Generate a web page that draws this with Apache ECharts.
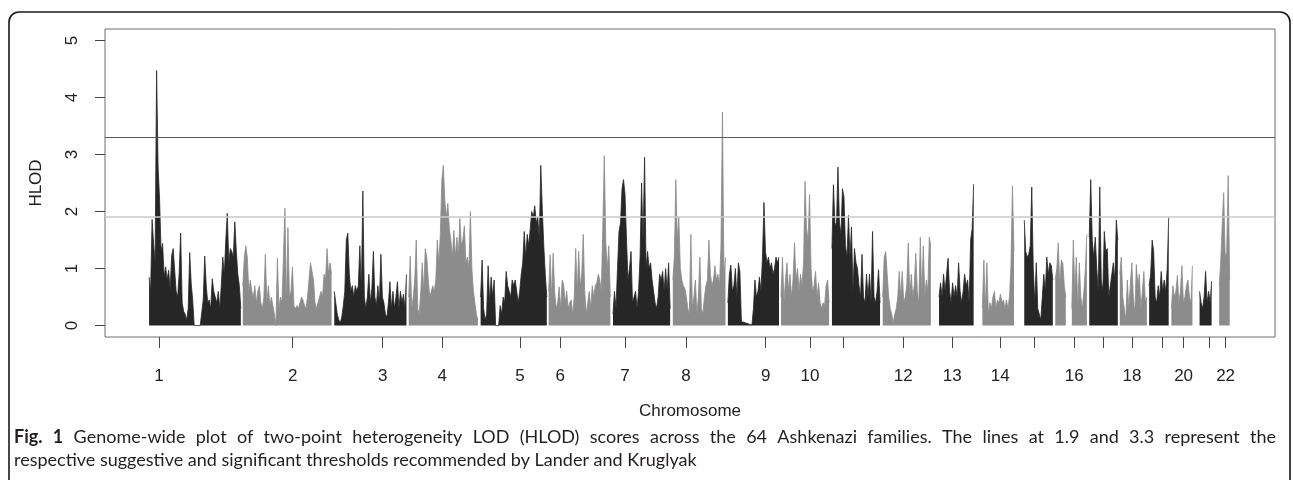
<!DOCTYPE html>
<html>
<head>
<meta charset="utf-8">
<title>HLOD genome scan</title>
<script src="https://cdn.jsdelivr.net/npm/echarts@6.0.0/dist/echarts.min.js"></script>
<style>
  html, body { margin: 0; padding: 0; background: #fff; }
  #chart { width: 1293px; height: 480px; }
</style>
</head>
<body>
<div id="chart"></div>
<script>
// autosome lengths in Mb, values every 4 Mb (null = no markers)
const chrNames = ['1','2','3','4','5','6','7','8','9','10','11','12','13','14','15','16','17','18','19','20','21','22'];
const chrLenMb = [249.25, 243.2, 198.0, 191.15, 180.9, 171.1, 159.1, 146.4, 141.2, 135.5, 135.0,
  133.85, 115.2, 107.35, 102.5, 90.35, 81.2, 78.1, 59.1, 63.0, 48.1, 51.3];
const STEP = 4;

const chr1 = [0.85,0.6,1.86,1.44,1.1,4.47,2.78,2.2,1.3,1.44,0.85,1.03,0.8,0.97,0.62,1.22,1.35,1.33,0.6,0.5,
  0.92,1.62,0.4,0.25,0.2,0.1,0.3,1.28,0.74,0.45,0,0,0,0,0,0,0.45,1.22,0.7,0.4,0.45,0.3,0.82,0.6,0.6,0.4,
  0.6,0.3,0.7,1.2,0.9,1.5,1.97,1.1,1.35,1.3,1.2,1.82,1.3,0.9,0.7,0.3];
const chr2 = [0.7,1.2,1.4,1.2,0.6,0.8,0.6,0.5,0.7,0.4,0.6,0.7,0.4,0.3,0.5,1.25,0.4,0.7,0.35,0.5,
  0.35,0.2,0,1.18,0.3,0.5,0.4,1.2,2.06,0.4,1.72,0.5,0.6,1.03,0.35,0.3,0.35,0.3,0.4,0.5,
  0.45,0.35,0.3,0.5,0.8,1.1,0.95,0.8,0.4,0.3,0.4,0.5,0.6,0.5,0.9,0.8,1.35,0.9,1.1,0.9];
const chr3 = [0.6,0.4,0.2,0.1,0.05,0.15,0.35,0.6,1.5,1.62,0.9,0.6,0.7,0.5,0.7,0.6,0.7,1.4,0.6,2.36,
  0.5,0.3,0.5,0.9,0.4,0.65,1.3,0.5,0.35,0.7,0.4,1.25,0.5,0.4,0.2,0.15,0.4,0.77,0.3,0.6,
  0.3,0.5,0.77,0.3,0.6,0.4,0.55,0.3,0.9];
const chr4 = [0.5,1.22,0.3,0.5,0.8,1.5,0.3,0.2,0.6,1.1,0.6,1.35,1.2,0.8,0.5,0.6,0.7,0.6,0.8,1.5,
  1.1,1.6,2.55,2.81,2.2,1.9,2.14,1.7,1.5,1.2,1.67,1.2,1.55,1.25,1.88,1.4,1.5,1.75,1.1,1.2,
  1.0,2.0,1.0,0.6,0.4,0.2,0.1];
const chr5 = [0.5,1.15,0.3,0.1,0.2,1.05,0.4,0.85,0.5,0.8,0,0,0,0.35,0.2,0.5,0.4,0.95,0.7,0.6,
  0.5,0.8,0.7,0.8,0.6,0.4,0.6,0.9,1.1,1.65,1.2,1.6,1.4,1.7,2.0,1.9,2.1,1.8,1.9,1.5,
  2.81,2.05,1.4,0.9,0.5];
const chr6 = [0.6,1.24,0.5,1.27,0.6,0.3,0.4,0.68,0.3,0.8,0.71,0.4,0.6,0.3,0.4,0.45,0.2,0.5,1.35,0.6,
  1.3,0.7,0.9,1.6,0.6,0.2,0.4,0.6,0.3,0.7,0.5,0.7,0.75,0.9,0.8,0.6,1.7,2.98,1.45,1.0,1.4,0.5];
const chr7 = [0.2,0.6,0.3,1.0,1.65,1.8,2.4,2.56,2.3,1.5,0.8,1.0,1.3,0.4,0.5,0.6,0.3,0.6,1.2,2.5,
  1.5,2.95,1.0,1.3,1.0,1.1,0.8,0.6,0.4,0.3,0.5,0.9,0.8,0.95,0.6,1.0,0.6,1.1,0.3];
const chr8 = [0.8,1.2,2.56,1.5,1.9,1.0,0.8,0.7,0.65,0.5,0.3,0.2,1.6,0.3,0.5,0.8,0.2,0.5,1.2,0.3,
  0.2,0.5,0.7,0.8,1.5,0.9,0.7,0.8,1.05,0.8,0.9,0.7,1.38,3.74,0.9,1.2];
const chr9 = [0.4,0.9,1.06,0.6,0.7,1.0,0.5,1.1,0.95,0.07,null,null,null,null,null,null,
  0.01,0.3,0.8,0.5,0.6,0.85,0.6,1.2,2.16,1.3,1.1,1.2,1.0,1.1,0.9,1.0,1.2,1.1,1.2];
const chr10 = [0.5,1.2,0.4,0.8,1.1,0.6,0.9,0.5,0.8,1.45,0.8,1.0,0.6,0.9,0.7,1.1,2.53,1.7,1.5,2.3,
  1.0,0.6,0.7,0.95,0.5,0.75,0.4,0.3,0.4,0.35,0.7,0.8,0.4];
const chr11 = [1.35,2.47,1.8,1.75,2.78,1.8,1.6,2.4,2.26,1.4,1.2,1.93,1.2,1.73,0.6,1.35,1.1,1.0,0.7,0.5,
  1.25,0.5,0.4,0.9,0.5,0.9,0.4,1.65,0.5,0.4,0.6,0.98,0.4];
const chr12 = [0.5,1.2,1.3,0.9,0.5,0.3,0.2,0.05,0.2,0.3,0.5,0.95,0.5,0.95,0.4,0.5,0.7,1.45,0.5,0.9,
  0.5,0.7,1.27,0.6,0.4,1.55,0.5,1.4,0.5,0.8,0.6,1.55,1.4];
const chr13 = [null,null,null,null,0.5,0.75,0.5,0.9,0.6,0.9,1.18,0.6,0.4,0.75,0.5,0.7,0.5,1.1,0.6,0.4,
  0.6,0.9,0.7,0.8,0.4,1.5,1.7,2.48];
const chr14 = [null,null,null,null,0.3,1.15,0.3,1.1,0.2,0.4,0.3,0.5,0.6,0.3,0.45,0.4,0.55,0.4,0.45,0.3,
  0.45,0.3,0.5,1.05,2.45,1.3];
const chr15 = [null,null,null,null,null,1.85,1.3,1.2,1.25,1.4,2.43,1.0,0.4,1.1,0.3,0.3,0.1,0.5,0.9,0.6,
  1.2,0.9,1.1,1.05,0.8];
const chr16 = [0.8,1.0,1.45,0.7,1.15,1.1,0.7,0.5,null,null,null,0.3,1.5,0.6,1.2,0.3,1.1,0.5,0.3,0.6,1.0,1.6];
const chr17 = [1.55,2.56,1.5,1.2,1.55,1.0,0.6,2.43,0.8,0.6,1.65,1.3,1.35,0.5,0.7,0.9,1.1,0.8,1.85,1.5];
const chr18 = [0.9,1.2,0.5,0.3,0.1,0.8,0.3,0.3,1.1,0.5,0.2,1.07,0.7,0.9,0.3,0.6,0.95,0.4,0.5];
const chr19 = [0.7,0.9,1.5,1.3,0.5,0.4,0.7,0.5,0.95,0.6,0.8,0.6,1.0,1.9];
const chr20 = [0.3,0.7,0.5,0.6,0.88,0.4,0.6,1.05,0.4,0.5,0.7,0.8,0.5,0.4,1.05];
const chr21 = [null,null,null,0.6,0.4,0.3,0.5,0.95,0.4,0.6,0.4,0.78];
const chr22 = [null,null,null,null,0.7,1.1,1.76,2.33,1.2,1.3,2.63,0.8];

// x tick positions (cumulative Mb) and their labels; R dropped the crowded ones
const tickMb = [28.4, 383.9, 623.2, 781.7, 988.3, 1095.5, 1267.5, 1429.7, 1641.6, 1759.4, 1847.9,
  2007.4, 2137.7, 2265.4, 2355.0, 2462.1, 2540.3, 2615.6, 2695.3, 2753.0, 2820.3, 2864.7];
const tickText = ['1','2','3','4','5','6','7','8','9','10','','12','13','14','','16','','18','','20','','22'];
const yTicks = [0, 1, 2, 3, 4, 5];
const suggestive = 1.9;
const significant = 3.3;

const captionLine1 = 'Fig. 1 Genome-wide plot of two-point heterogeneity LOD (HLOD) scores across the 64 Ashkenazi families. The lines at 1.9 and 3.3 represent the';
const captionLine2 = 'respective suggestive and significant thresholds recommended by Lander and Kruglyak';

const hlod = [chr1, chr2, chr3, chr4, chr5, chr6, chr7, chr8, chr9, chr10, chr11,
  chr12, chr13, chr14, chr15, chr16, chr17, chr18, chr19, chr20, chr21, chr22];
const bridged = ['9']; // line runs across the gap on this one

const DARK = '#262626';
const GREY = '#8c8c8c';
const FONT = '"Liberation Sans", Arial, sans-serif';
const CAP_FONT = 'Lato, "Open Sans", sans-serif';
const CAP_SIZE = 18;

const chrStart = [];
let acc = 0;
chrLenMb.forEach(len => { chrStart.push(acc); acc += len; });

const series = hlod.map((vals, c) => {
  const color = c % 2 === 0 ? DARK : GREY;
  return {
    name: 'chr' + chrNames[c],
    type: 'line',
    data: vals.map((v, i) => [chrStart[c] + STEP * i + STEP / 2, v]),
    symbol: 'none',
    connectNulls: bridged.includes(chrNames[c]),
    lineStyle: { color: color, width: 0.8 },
    areaStyle: { color: color, opacity: 1, origin: 'auto' },
    silent: true,
    z: 2
  };
});

series.push({
  name: 'thresholds',
  type: 'line',
  data: [],
  z: 5,
  markLine: {
    silent: true,
    symbol: ['none', 'none'],
    label: { show: false },
    data: [
      { yAxis: significant, lineStyle: { color: '#5a5a5a', width: 1.2, type: 'solid' } },
      { yAxis: suggestive, lineStyle: { color: '#c8c8c8', width: 1.6, type: 'solid' } }
    ]
  }
});

// caption: first line is justified across the card like the journal layout
const measure = document.createElement('canvas').getContext('2d');
function textWidth(str, bold) {
  measure.font = (bold ? 'bold ' : '') + CAP_SIZE + 'px ' + CAP_FONT;
  return measure.measureText(str).width;
}
const words = captionLine1.split(' ');
const isBold = words.map((w, i) => i < 2);
const widths = words.map((w, i) => textWidth(w, isBold[i]));
const capLeft = 14, capRight = 1276;
const gap = (capRight - capLeft - widths.reduce((a, b) => a + b, 0)) / (words.length - 1);
const captionGraphics = [];
let cx = capLeft;
words.forEach((w, i) => {
  captionGraphics.push({
    type: 'text', silent: true, x: cx, y: 437,
    style: {
      text: w, fill: '#231f20', textVerticalAlign: 'middle',
      font: (isBold[i] ? 'bold ' : '') + CAP_SIZE + 'px ' + CAP_FONT
    }
  });
  cx += widths[i] + gap;
});
captionGraphics.push({
  type: 'text', silent: true, x: capLeft, y: 460,
  style: { text: captionLine2, fill: '#231f20', textVerticalAlign: 'middle', font: CAP_SIZE + 'px ' + CAP_FONT }
});

const chart = echarts.init(document.getElementById('chart'), null, { renderer: 'canvas' });

chart.setOption({
  animation: false,
  backgroundColor: '#fff',
  textStyle: { fontFamily: FONT },
  grid: {
    left: 105, right: 18, top: 29, bottom: 143,
    show: true, borderColor: '#6e6e6e', borderWidth: 1
  },
  xAxis: {
    type: 'value',
    min: -115.2,
    max: 2996,
    name: 'Chromosome',
    nameLocation: 'middle',
    nameGap: 66,
    nameTextStyle: { fontSize: 17, color: '#222', fontFamily: FONT },
    axisLine: { show: false, onZero: false },
    splitLine: { show: false },
    axisTick: {
      show: true, length: 11, customValues: tickMb,
      lineStyle: { color: '#444', width: 1 }
    },
    axisLabel: {
      customValues: tickMb.filter((v, i) => tickText[i] !== ''),
      formatter: v => tickText[tickMb.indexOf(v)],
      margin: 31,
      fontSize: 17,
      color: '#222',
      fontFamily: FONT
    }
  },
  yAxis: {
    type: 'value',
    min: -0.2,
    max: 5.2,
    name: 'HLOD',
    nameLocation: 'middle',
    nameGap: 60,
    nameRotate: 90,
    nameTextStyle: { fontSize: 17, color: '#222', fontFamily: FONT },
    axisLine: { show: false, onZero: false },
    splitLine: { show: false },
    axisTick: {
      show: true, length: 10, customValues: yTicks,
      lineStyle: { color: '#444', width: 1 }
    },
    axisLabel: {
      customValues: yTicks,
      rotate: 90,
      margin: 24,
      fontSize: 17,
      color: '#222',
      fontFamily: FONT
    }
  },
  graphic: [
    {
      type: 'rect',
      silent: true,
      shape: { x: 9, y: 12, width: 1281, height: 520, r: 10 },
      style: { fill: 'none', stroke: '#1a1a1a', lineWidth: 1.6 }
    }
  ].concat(captionGraphics),
  series: series
});
</script>
</body>
</html>
